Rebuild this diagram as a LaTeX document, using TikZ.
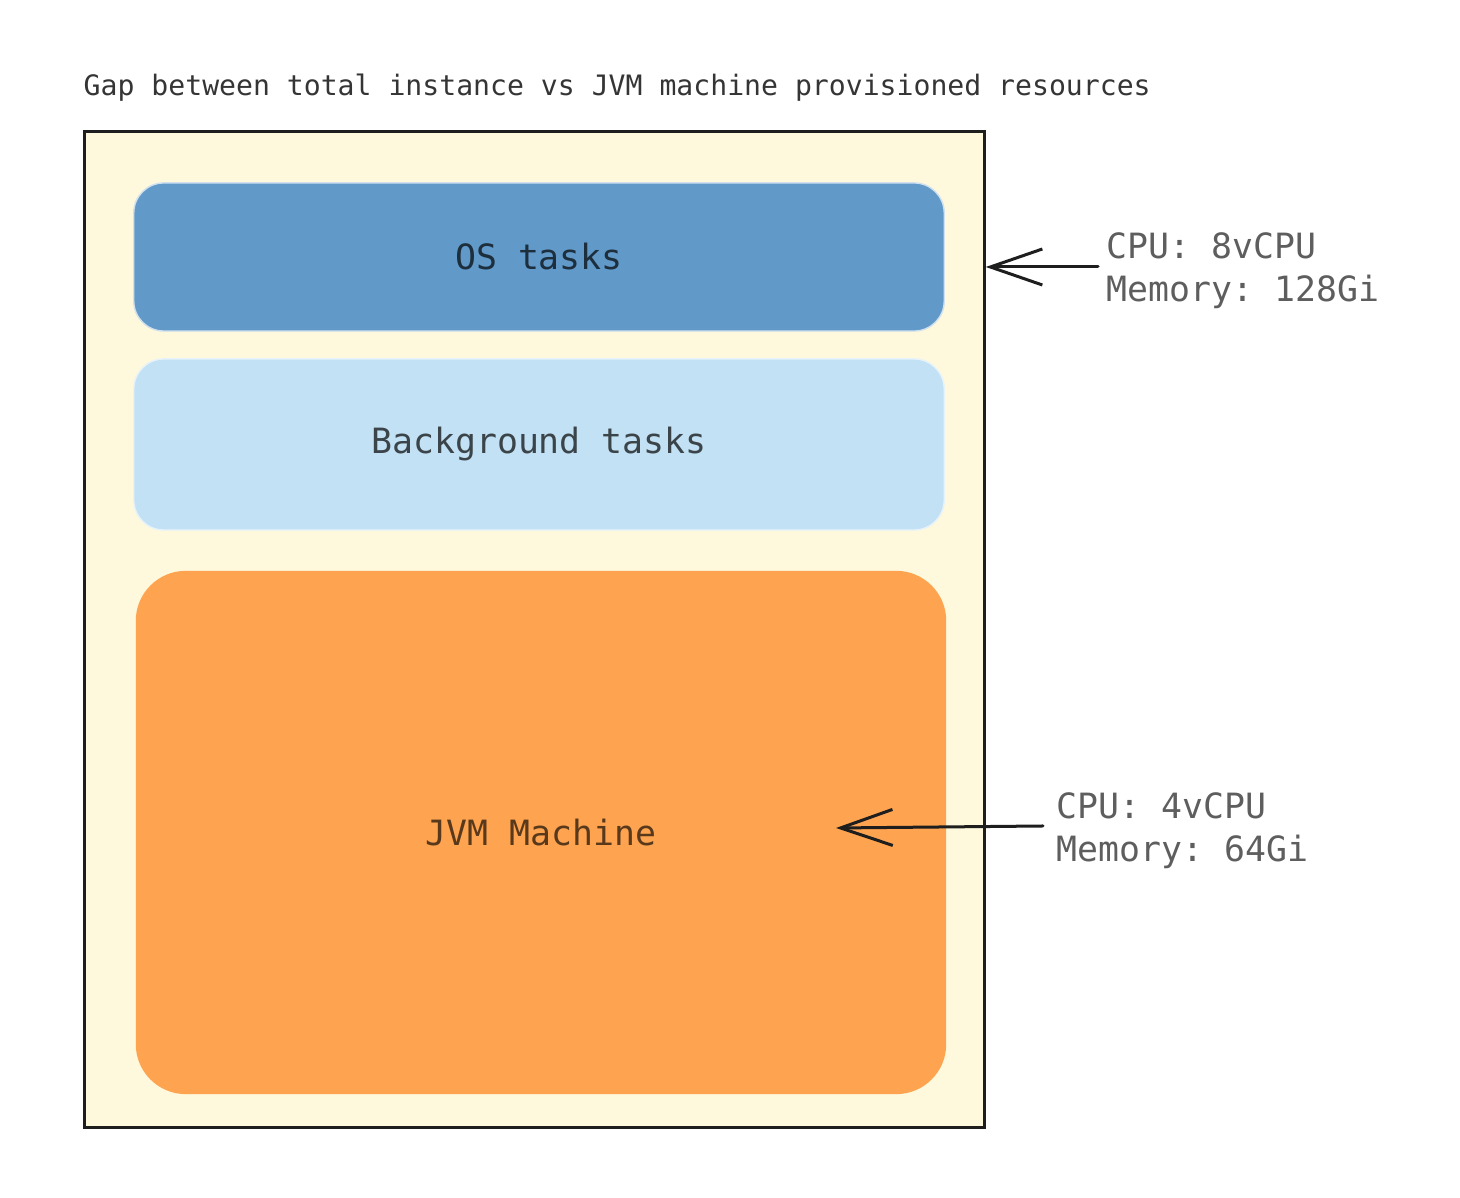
\documentclass[tikz,border=0pt]{standalone}
\usepackage{fontspec}
\setmonofont{DejaVu Sans Mono}
\usetikzlibrary{arrows.meta,positioning}
\definecolor{cream}{HTML}{FEF8DC}
\definecolor{osblue}{HTML}{6199C9}
\definecolor{bgblue}{HTML}{C2E1F4}
\definecolor{jvmorange}{HTML}{FEA34F}
\definecolor{labelgrey}{HTML}{5E5E5E}
\definecolor{edgeblack}{HTML}{1E1E1E}

\begin{document}
\begin{tikzpicture}[x=0.01cm,y=-0.01cm]
\tikzstyle{task}=[rounded corners=0.3cm,minimum width=8.1cm,inner sep=0pt,font=\fontsize{9.9pt}{12.2pt}\selectfont\ttfamily]
\tikzstyle{res}=[anchor=west,align=left,inner sep=0pt,text=labelgrey,font=\fontsize{9.9pt}{12.2pt}\selectfont\ttfamily]
\tikzstyle{arrow}=[draw=edgeblack,line width=0.03cm,line cap=round,-{Straight Barb[length=0.52cm,width=0.36cm,line width=0.03cm]}]
\useasboundingbox (0,0) rectangle (1460,1198);

\node [anchor=base west,inner sep=0pt,text=edgeblack!90,font=\fontsize{8pt}{10pt}\selectfont\ttfamily] at (83,96) (title) {Gap between total instance vs JVM machine provisioned resources};

\node [draw=edgeblack,fill=cream,line width=0.03cm,minimum width=8.99cm,minimum height=9.95cm] at (534.5,629.5) (instance) {};
\node [task,fill=osblue,draw=white!70!osblue,minimum height=1.48cm,text=black!70!osblue] at (539,257) (os) {\raisebox{-0.03cm}{OS tasks}};
\node [task,fill=bgblue,draw=white!60!bgblue,minimum height=1.71cm,text=black!70!bgblue] at (539,444.5) (bg) {\raisebox{-0.04cm}{Background tasks}};
\node [task,fill=jvmorange,rounded corners=0.5cm,minimum height=5.23cm,text=black!65!jvmorange] at (541,832.5) (jvm) {\raisebox{-0.02cm}{JVM Machine}};

\node [res] at (1106,271) (cpu1) {CPU: 8vCPU\\Memory: 128Gi};
\node [res] at (1056,831) (cpu2) {CPU: 4vCPU\\Memory: 64Gi};

\coordinate (t2) at (836,828);
\draw [arrow] ([xshift=-0.08cm,yshift=0.04cm]cpu1.west) coordinate (s1) -- (s1 -| instance.east);
\draw [arrow] ([xshift=-0.13cm,yshift=0.05cm]cpu2.west) -- (t2);
\end{tikzpicture}
\end{document}
